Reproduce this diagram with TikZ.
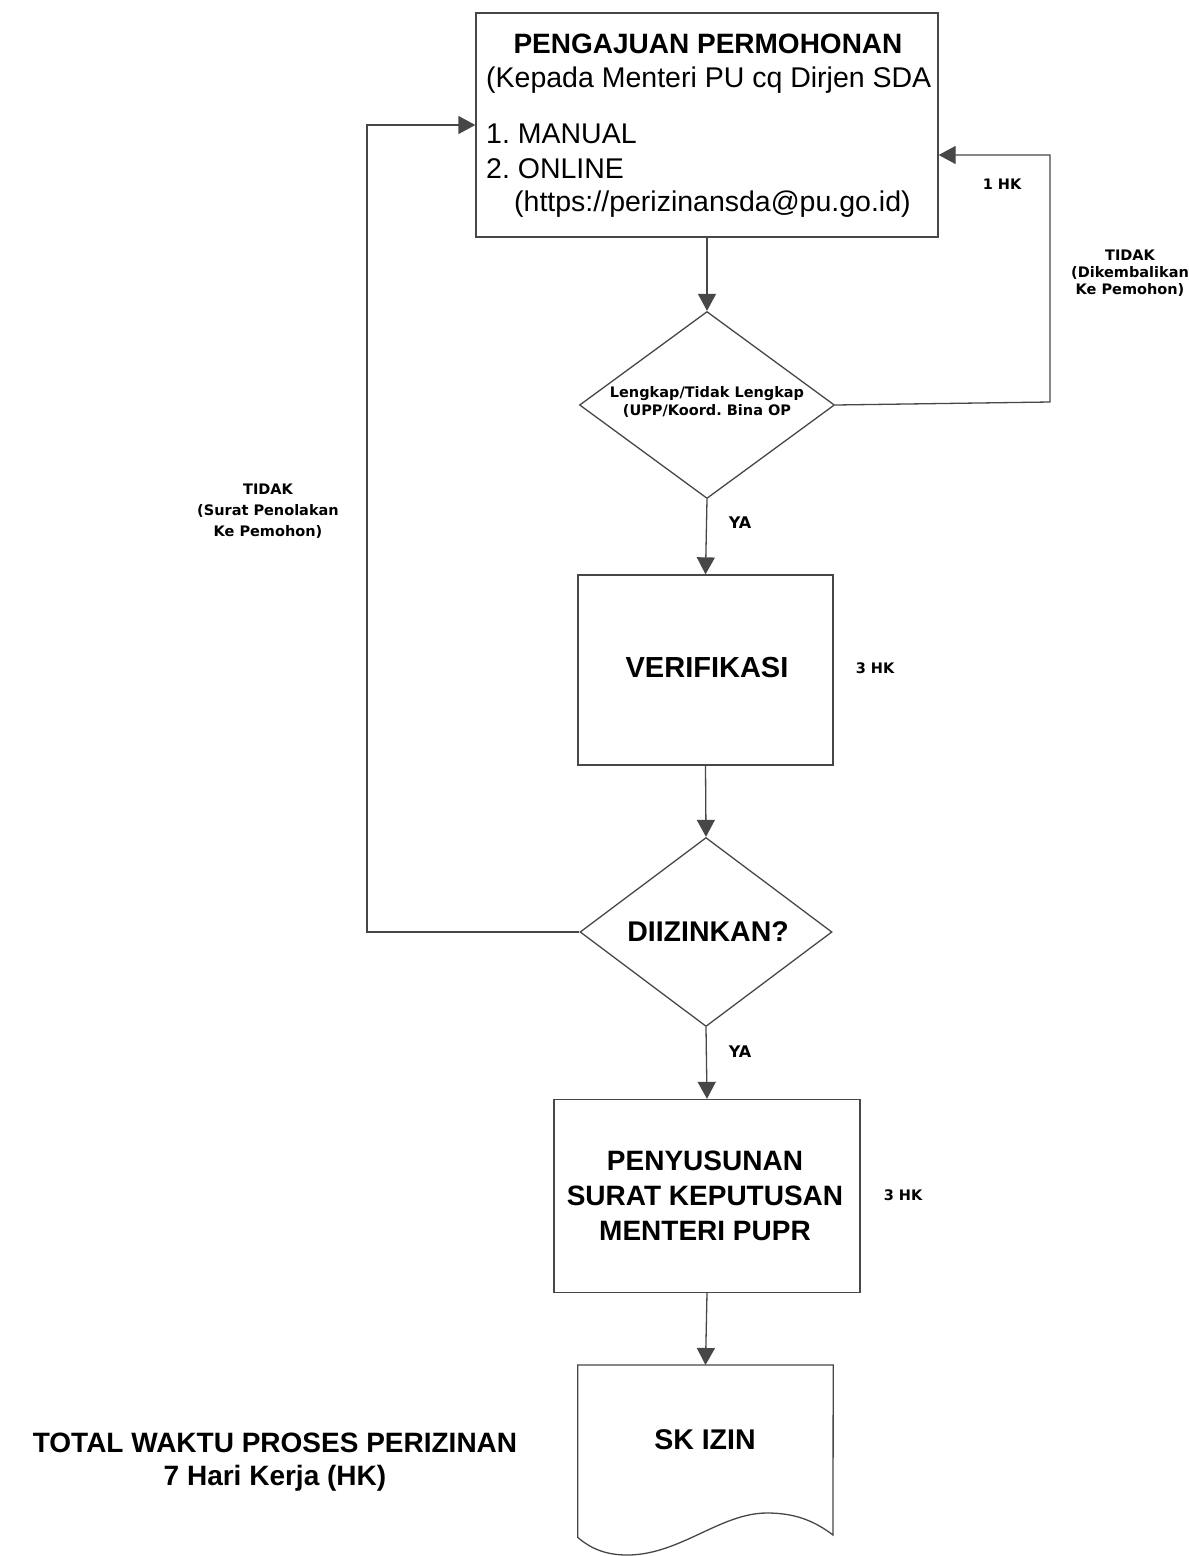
\documentclass[tikz,border=0pt]{standalone}
\usepackage{fontspec}
\setmainfont{Liberation Sans}
\newfontfamily\labelfont{DejaVu Sans}
\usetikzlibrary{arrows.meta,shapes.geometric,calc}

\begin{document}
\frenchspacing
\begin{tikzpicture}[x=1pt,y=-1pt,
  ln/.style={draw=black!72, line width=1.3pt},
  arr/.style={ln, -{Triangle[length=17pt,width=18pt]}},
  box/.style={draw=black!72, line width=1.3pt, rectangle, inner sep=0pt},
  dia/.style={draw=black!72, line width=1.3pt, diamond, inner sep=0pt},
  big/.style={font=\fontsize{28.5}{33}\selectfont, inner sep=0pt},
  bigb/.style={font=\fontsize{28.5}{35}\selectfont\bfseries, inner sep=0pt, align=center},
  tiny/.style={font=\labelfont\fontsize{14.5}{17}\selectfont\bfseries, inner sep=0pt, align=center},
  small/.style={font=\labelfont\fontsize{14.5}{17}\selectfont\bfseries, inner sep=0pt, align=center}
]
\useasboundingbox (0,0) rectangle (1189,1556);

% request box
\node[box, minimum width=462pt, minimum height=224pt] (top) at (707,125) {};
\node[bigb, font=\fontsize{28}{35}\selectfont\bfseries] (t1) at (708,44) {PENGAJUAN PERMOHONAN};
\node[big, anchor=west] (t2) at (486,80) {(Kepada Menteri PU cq Dirjen SDA};
\node[big, anchor=west] (t3) at (486,134) {1. MANUAL};
\node[big, anchor=west] (t4) at (486,169) {2. ONLINE};
\node[big, anchor=west] (t5) at (514,204) {(https://perizinansda@pu.go.id)};

% completeness check
\node[dia, minimum width=255pt, minimum height=187pt] (d1) at (707,405) {};
\node[small, font=\labelfont\fontsize{14.5}{18}\selectfont\bfseries] (d1t) at (707,402) {Lengkap/Tidak Lengkap\\(UPP/Koord. Bina OP};

% verification
\node[box, minimum width=255pt, minimum height=190pt] (ver) at (705.5,670) {};
\node[bigb, font=\fontsize{29}{35}\selectfont\bfseries] at (707,668) {VERIFIKASI};

% approval decision
\node[dia, minimum width=252pt, minimum height=189pt] (d2) at (706,932) {};
\node[bigb, font=\fontsize{28.5}{30}\selectfont\bfseries] at (708,932) {DIIZINKAN?};

% decree drafting
\node[box, minimum width=306pt, minimum height=193pt] (sus) at (707,1196) {};
\node[bigb, font=\fontsize{28}{35}\selectfont\bfseries] at (705,1196) {PENYUSUNAN\\SURAT KEPUTUSAN\\MENTERI PUPR};

% output document
\node[minimum width=255pt, minimum height=172pt, inner sep=0pt, anchor=north] (sk) at (705.5,1365) {};
\draw[ln] (sk.north west) -- (sk.north east) -- (833,1535)
  .. controls (812,1519) and (792,1513) .. (767,1513)
  .. controls (720,1513) and (680,1555) .. (627,1555)
  .. controls (605,1555) and (590,1548) .. (sk.south west) -- cycle;
\node[bigb, font=\fontsize{28.5}{30}\selectfont\bfseries] at (705,1440) {SK IZIN};

% main flow
\draw[arr] (top.south) -- (d1.north);
\draw[arr] (d1.south) -- (ver.north);
\draw[arr] (ver.south) -- (d2.north);
\draw[arr] (d2.south) -- (sus.north);
\draw[arr] (sus.south) -- (sk.north);

% return loops
\coordinate (r1) at (1050,402);
\coordinate (r2) at (1050,155);
\draw[arr] (d1.east) -- (r1) -- (r2) -- ($(top.east)+(0,30)$);
\coordinate (l1) at (367,932);
\coordinate (l2) at (367,125);
\draw[arr] (d2.west) -- (l1) -- (l2) -- (top.west);

% labels
\node[tiny] at (1002,184) {1 HK};
\node[tiny] at (1130,273) {TIDAK\\(Dikembalikan\\Ke Pemohon)};
\node[tiny, font=\labelfont\fontsize{14.5}{21}\selectfont\bfseries] at (268,511) {TIDAK\\(Surat Penolakan\\Ke Pemohon)};
\node[small, font=\labelfont\fontsize{16}{18}\selectfont\bfseries] at (740,523) {YA};
\node[small, font=\labelfont\fontsize{16}{18}\selectfont\bfseries] at (740,1052) {YA};
\node[tiny] at (875,668) {3 HK};
\node[tiny] at (903,1195) {3 HK};
\node[bigb, font=\fontsize{28}{33}\selectfont\bfseries] at (275,1462) {TOTAL WAKTU PROSES PERIZINAN\\7 Hari Kerja (HK)};
\end{tikzpicture}
\end{document}
